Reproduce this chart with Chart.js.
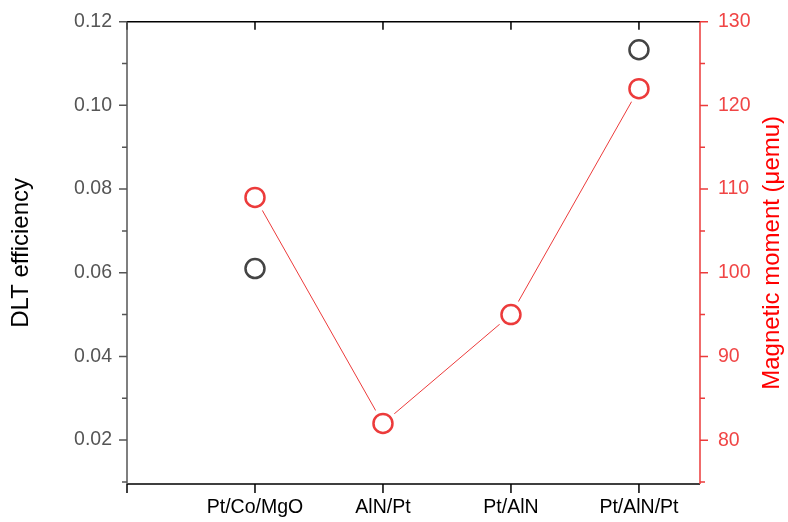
<!DOCTYPE html>
<html>
<head>
<meta charset="utf-8">
<script src="https://cdn.jsdelivr.net/npm/chart.js@4.4.1/dist/chart.umd.min.js"></script>
<style>
  html, body { margin: 0; padding: 0; background: #fff; }
  #wrap { width: 788px; height: 522px; }
</style>
</head>
<body>
<div id="wrap"><canvas id="dltChart" width="788" height="522"></canvas></div>
<script>
// samples along the x axis
const samples = ['Pt/Co/MgO', 'AlN/Pt', 'Pt/AlN', 'Pt/AlN/Pt'];
// DLT efficiency (left axis), only measured for two samples
const dltEfficiency = [0.061, null, null, 0.1133];
// magnetic moment in uemu (right axis)
const magMoment = [109, 82, 95, 122];
// tick labels
const leftTicks = [0.02, 0.04, 0.06, 0.08, 0.10, 0.12];
const rightTicks = [80, 90, 100, 110, 120, 130];

const RED = '#ec3b3b';
const FONT = 'Liberation Sans, Arial, sans-serif';
const TICK_SIZE = 19.5;

function pts(values) {
  return values.map((v, i) => ({ x: i + 1, y: v })).filter(p => p.y !== null);
}

// axis frame and tick marks (major + minor) drawn by hand
const framePlugin = {
  id: 'frame',
  afterDraw(chart) {
    const ctx = chart.ctx;
    const a = chart.chartArea;
    const x = chart.scales.x, yl = chart.scales.yLeft, yr = chart.scales.yRight;
    ctx.save();
    ctx.lineWidth = 1.5;

    // top and bottom
    ctx.strokeStyle = '#000';
    ctx.beginPath();
    ctx.moveTo(a.left, a.top); ctx.lineTo(a.right, a.top);
    ctx.moveTo(a.left, a.bottom); ctx.lineTo(a.right, a.bottom);
    for (let i = 0; i <= samples.length; i++) {
      const px = x.getPixelForValue(i);
      ctx.moveTo(px, a.top); ctx.lineTo(px, a.top + 8);
      ctx.moveTo(px, a.bottom); ctx.lineTo(px, a.bottom + 9);
    }
    ctx.stroke();

    // left axis
    ctx.strokeStyle = '#555';
    ctx.beginPath();
    ctx.moveTo(a.left, a.top); ctx.lineTo(a.left, a.bottom);
    for (let v = 0.01; v <= 0.1201; v += 0.01) {
      const py = yl.getPixelForValue(v);
      if (py > a.bottom + 0.5) continue;
      const major = Math.round(v * 100) % 2 === 0;
      ctx.moveTo(a.left - (major ? 8 : 5), py); ctx.lineTo(a.left, py);
    }
    ctx.stroke();

    // right axis
    ctx.strokeStyle = RED;
    ctx.beginPath();
    ctx.moveTo(a.right, a.top); ctx.lineTo(a.right, a.bottom);
    for (let v = 75; v <= 130; v += 5) {
      const py = yr.getPixelForValue(v);
      if (py > a.bottom + 0.5) continue;
      const major = v % 10 === 0;
      ctx.moveTo(a.right, py); ctx.lineTo(a.right + (major ? 8 : 5), py);
    }
    ctx.stroke();

    // right title reads bottom to top
    ctx.fillStyle = '#ff0000';
    ctx.font = '24px ' + FONT;
    ctx.textAlign = 'center';
    ctx.textBaseline = 'middle';
    ctx.translate(772, (a.top + a.bottom) / 2);
    ctx.rotate(-Math.PI / 2);
    ctx.fillText('Magnetic moment (\u03bcemu)', 0, 0);
    ctx.restore();
  }
};

const ctx = document.getElementById('dltChart').getContext('2d');
const dltChart = new Chart(ctx, {
  type: 'scatter',
  data: {
    datasets: [
      {
        // connecting line, white discs leave a gap round each marker
        data: pts(magMoment),
        yAxisID: 'yRight',
        showLine: true,
        borderColor: RED,
        borderWidth: 1,
        pointRadius: 15,
        pointBackgroundColor: '#fff',
        pointBorderWidth: 0,
        pointBorderColor: '#fff',
        order: 3
      },
      {
        label: 'Magnetic moment',
        data: pts(magMoment),
        yAxisID: 'yRight',
        showLine: false,
        pointRadius: 9.5,
        pointBorderWidth: 2.5,
        pointBorderColor: RED,
        pointBackgroundColor: 'rgba(0,0,0,0)',
        order: 2
      },
      {
        label: 'DLT efficiency',
        data: pts(dltEfficiency),
        yAxisID: 'yLeft',
        showLine: false,
        pointRadius: 9.5,
        pointBorderWidth: 2.5,
        pointBorderColor: '#444',
        pointBackgroundColor: 'rgba(0,0,0,0)',
        order: 1
      }
    ]
  },
  options: {
    responsive: false,
    animation: false,
    layout: { padding: { top: 20, right: 0, bottom: 0, left: 0 } },
    plugins: { legend: { display: false }, tooltip: { enabled: false } },
    scales: {
      x: {
        type: 'linear',
        position: 'bottom',
        min: 0,
        max: 4.477,
        afterBuildTicks: s => { s.ticks = [0, 1, 2, 3, 4].map(v => ({ value: v })); },
        afterFit: s => { s.height = 38; },
        grid: { display: false, drawTicks: true, tickLength: 9 },
        border: { display: false },
        ticks: {
          padding: 3,
          maxRotation: 0,
          autoSkip: false,
          color: '#000',
          font: { family: FONT, size: TICK_SIZE },
          callback: v => samples[v - 1] || ''
        }
      },
      yLeft: {
        type: 'linear',
        position: 'left',
        min: 0.0095,
        max: 0.12,
        afterBuildTicks: s => { s.ticks = leftTicks.map(v => ({ value: v })); },
        afterFit: s => { s.width = 127; },
        grid: { display: false, drawTicks: true, tickLength: 8 },
        border: { display: false },
        ticks: {
          padding: 7,
          color: '#555',
          font: { family: FONT, size: TICK_SIZE },
          callback: v => v.toFixed(2)
        },
        title: {
          display: true,
          text: 'DLT efficiency',
          color: '#000',
          font: { family: FONT, size: 24 },
          padding: { top: 6.5, bottom: 0 }
        }
      },
      yRight: {
        type: 'linear',
        position: 'right',
        min: 74.76,
        max: 130,
        afterBuildTicks: s => { s.ticks = rightTicks.map(v => ({ value: v })); },
        afterFit: s => { s.width = 88; },
        grid: { display: false, drawTicks: true, tickLength: 8 },
        border: { display: false },
        ticks: {
          padding: 10,
          color: '#f04545',
          font: { family: FONT, size: TICK_SIZE }
        }
      }
    }
  },
  plugins: [framePlugin]
});
</script>
</body>
</html>
